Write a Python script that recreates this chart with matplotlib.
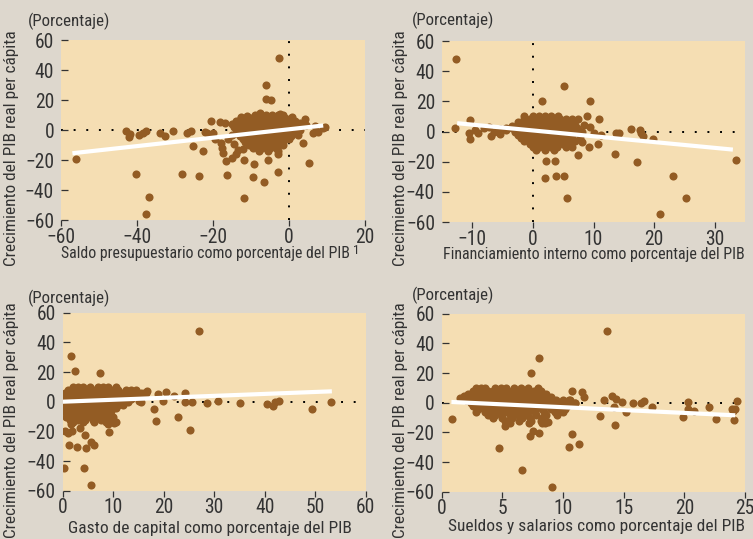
import matplotlib
matplotlib.use("Agg")
import matplotlib.pyplot as plt
from matplotlib import font_manager
import numpy as np

W, H = 753, 539
BG = "#ddd7cd"
PLOT_BG = "#f5deb3"
DOT = "#935c24"
TXT = "#333333"

YLABEL = "Crecimiento del PIB real per cápita"
UNIT = "(Porcentaje)"

# ---- panel 1: saldo presupuestario ----
saldo_rows = [
    (10, [-9, -7.5, -6, -4.5, -3, -1.5]),
    (8, [-12.5, -11, -10, -8.5, -7, -5.5, -4, -2.5, -1, 0.5]),
    (6, [-14, -12.8, -11.5, -10.2, -9, -8, -7, -6, -5, -4, -3, -2, -1, 0, 1.5]),
    (4, [-15, -13.5, -12, -11, -10, -9, -8, -7, -6, -5, -4, -3, -2, -1, 0, 1, 2.5]),
    (2, [-14.5, -13, -12, -11, -10, -9, -8, -7, -6, -5, -4, -3, -2, -1, 0, 1, 2]),
    (0, [-13.5, -12.5, -11.5, -10.5, -9.5, -8.5, -7.5, -6.5, -5.5, -4.5, -3.5, -2.5, -1.5, -0.5, 0.5, 1.5, 3]),
    (-2, [-14, -12.5, -11, -10, -9, -8, -7, -6, -5, -4, -3, -2, -1, 0, 1]),
    (-4, [-13, -11.5, -10, -9, -8, -7, -6, -5, -4, -3, -2, -1, 0.5]),
    (-6, [-12, -10.5, -9.5, -8.5, -7.5, -6.5, -5.5, -4.5, -3.5, -2.5, -1.5, 0]),
    (-8, [-11.5, -10, -9, -8, -7, -6, -5, -4, -3, -1.5]),
    (-10, [-10.5, -9, -7.5, -6, -4.5, -3, -1.5]),
    (-12, [-9.5, -7, -5, -3.5]),
    (-14, [-8, -5.5, -3]),
]
saldo_extra = [
    (-2.5, 48), (-6, 30), (-6, 20.5), (-4.8, 19.8), (-56, -19), (-40.3, -29.5),
    (-36.8, -44.9), (-37.6, -55.8), (-28.1, -29.3), (-23.8, -30.4), (-16.3, -30),
    (-11.8, -45), (-9.4, -31.3), (-6.5, -34.4), (-3, -27.8), (-9.1, -22.7),
    (-11.8, -20.2), (-5.5, -20), (5.3, -22), (3.8, -8.9), (-2.8, -16),
    (-16.5, -20.9), (-15.1, -18.9), (-17.4, -15), (-17.5, -12), (-22.5, -14),
    (-25.2, -10.7), (-42.9, -0.5), (-41.8, -2.7), (-42.2, -4.9), (-39.4, -3.6),
    (-38.5, -2.2), (-37.6, -0.9), (-34, -2.2), (-32.6, -4), (-30.6, -0.4),
    (-26.8, -1.8), (-25.8, -0.4), (-21.7, -1.8), (-20.5, 6.2), (-18.2, 5.1),
    (-16.8, 4.4), (-19.9, -2.2), (-22.1, -1.1), (4.2, 7.1), (4.5, 3.3),
    (6.4, -2.2), (6.8, 2.7), (7.7, -1.1), (9, 1.1), (9.5, 2), (-12.5, 8.9),
    (-11.1, 9.3), (-7.6, 11.1), (-2.4, 10.7), (0.7, 8.9), (-19.5, -6),
    (-18, -8.5), (-16, -6), (-15, -3), (-14.5, -9), (-14, -16), (-13.5, -13),
    (-12.2, -12.4), (2.5, -3), (3, 5),
]
saldo_fit = ([-57, 9], [-15.5, 3])

# ---- panel 2: financiamiento interno ----
fin_rows = [
    (10, [0, 1, 2, 3, 4.2]),
    (8, [-1.5, -0.5, 0.5, 1.5, 2.5, 3.5, 4.5, 5.5, 6.5]),
    (6, [-2.5, -1.5, -0.8, 0, 0.8, 1.6, 2.4, 3.2, 4, 4.8, 5.6, 6.5]),
    (4, [-2.2, -1.4, -0.6, 0.2, 1, 1.8, 2.6, 3.4, 4.2, 5, 5.8, 7]),
    (2, [-3.5, -2.5, -1.6, -0.8, 0, 0.8, 1.6, 2.4, 3.2, 4, 4.8, 5.6, 6.4, 7.3]),
    (0, [-3, -2, -1.2, -0.4, 0.4, 1.2, 2, 2.8, 3.6, 4.4, 5.2, 6, 7]),
    (-2, [-2.5, -1.5, -0.7, 0.1, 0.9, 1.7, 2.5, 3.3, 4.1, 4.9, 5.7, 6.5]),
    (-4, [-2, -1, 0, 0.8, 1.6, 2.4, 3.2, 4, 4.8, 5.6, 6.4]),
    (-6, [-1.5, -0.3, 0.6, 1.4, 2.2, 3, 3.8, 4.6, 5.4, 6.2, 7]),
    (-8, [-0.5, 0.5, 1.4, 2.3, 3.2, 4.1, 5, 6]),
    (-10, [0, 1, 2, 3, 4, 5.5, 6.5]),
    (-12, [0.5, 2, 3.5]),
]
fin_extra = [
    (-12.7, 48), (-12.9, 2.5), (-10.3, 7.5), (-10.4, -5), (-10.6, -0.7),
    (-9.5, 1), (-6.9, -2.9), (-7.2, 3.3), (-5.4, 1.7), (-4.4, 0.7), (-3.4, 3.7),
    (5.2, 30), (1.5, 20.4), (9.5, 19.9), (9, 10.4), (10.9, 8), (8.1, 0),
    (10.8, -8), (9.2, -10), (8.1, -7), (7.4, -15.5), (2.2, -19.4), (3.7, -19.6),
    (2, -31), (3.8, -29.3), (5.2, -29.3), (5.6, -44.4), (13.6, -14.7),
    (13.7, -1.3), (14.2, -0.7), (16.2, 1.5), (17.6, 0.8), (17.9, -1.3),
    (18.2, -2.9), (17.2, -20.1), (19.9, -4.7), (23.2, -29.8), (25.3, -44.4),
    (21, -55), (33.5, -18.8), (11.2, -2.2), (-9, -1), (-8, 2), (-6.5, 0),
    (-5.5, -1.5), (-4.5, 2), (-2.5, 4), (7.5, 1), (8.5, 4), (9.5, 3), (10, -1),
    (7.8, -4), (-1.5, 10), (6.5, 6), (7.5, 8),
]
fin_fit = ([-12.5, 33], [5.5, -12])

# ---- panel 3: gasto de capital ----
gasto_rows = [
    (10, [2, 3, 4, 5.5, 7, 8, 9, 10.5]),
    (8, [1, 2, 3, 4, 5, 6, 7, 8, 9, 10, 11, 12.5, 13.5, 14.5]),
    (6, [0.5, 1.5, 2.5, 3.5, 4.5, 5.5, 6.5, 7.5, 8.5, 9.5, 10.5, 11.5, 12.5, 13.5, 14.5, 15.5, 16.5]),
    (4, [0.3, 1.2, 2, 3, 4, 5, 6, 7, 8, 9, 10, 11, 12, 13, 14, 15]),
    (2, [0.5, 1.5, 2.5, 3.5, 4.5, 5.5, 6.5, 7.5, 8.5, 9.5, 10.5, 11.5, 12.5, 13.5]),
    (0, [0.5, 1.5, 2.5, 3.5, 4.5, 5.5, 6.5, 7.5, 8.5, 9.5, 10.5, 11.5, 13, 15.5]),
    (-2, [0.3, 1.2, 2, 3, 4, 5, 6, 7, 8, 9, 10, 11, 12]),
    (-4, [0.5, 1.5, 2.5, 3.5, 4.5, 5.5, 6.5, 7.5, 8.5, 9.5, 10.5]),
    (-6, [0.3, 1.2, 2.2, 3.2, 4.2, 5.2, 6.2, 7.2, 8.2, 9.5]),
    (-8, [0.8, 1.8, 2.8, 3.8, 4.8, 5.8, 6.8, 8, 9.2]),
    (-10, [1, 2.2, 3.5, 4.8, 6, 7.2, 8.5, 10]),
    (-12, [1.5, 3, 4.5, 6, 7.5, 9]),
    (-14, [2, 4, 6.2, 8.5, 10.5]),
]
gasto_extra = [
    (27, 48), (1.6, 30.5), (2.4, 20.6), (7.3, 19.3), (0.3, -45), (4.2, -45),
    (5.7, -56.2), (1.3, -29.2), (2.9, -30.4), (4.6, -31.5), (5.7, -27.3),
    (6.1, -29.2), (0.4, -19.5), (1.1, -21.4), (1.8, -19.8), (3.4, -18),
    (4.5, -22.5), (1.6, -15.3), (9.2, -20.2), (10.2, -14.2), (8.9, -15.3),
    (18.1, -5.2), (18.5, -12.8), (22.9, -10.3), (25.2, -18.8), (24.2, 5.6),
    (20.5, 6.7), (22, 3.8), (24.2, 0), (25.6, 0), (28.5, -0.9), (30.8, 0.4),
    (35.2, -1.1), (40.4, -1.8), (41.7, -2.7), (42.1, -0.4), (42.9, 0.4),
    (49.4, -4.9), (53.1, 0), (19.9, 0.7), (18.9, 5), (15.2, 0.7), (16.1, 5.6),
    (16.6, 7.2), (0.2, 4), (0.1, -5.8), (0.6, -10.3),
]
gasto_fit = ([0, 53.3], [0, 7])

# ---- panel 4: sueldos y salarios ----
sueldo_rows = [
    (10, [2.8, 3.2, 3.6, 4.4, 4.9, 5.3, 6, 6.5, 7.1, 7.9]),
    (8, [2.6, 3, 3.4, 3.8, 4.2, 4.6, 5, 5.4, 5.8, 6.2, 6.6, 7, 7.6, 8.2]),
    (6, [2.2, 2.6, 3, 3.4, 3.8, 4.2, 4.6, 5, 5.4, 5.8, 6.2, 6.6, 7, 7.4, 8, 8.6]),
    (4, [1.8, 2.3, 2.8, 3.2, 3.6, 4, 4.4, 4.8, 5.2, 5.6, 6, 6.4, 6.8, 7.2, 7.6, 8, 8.4, 9]),
    (2, [2, 2.5, 3, 3.4, 3.8, 4.2, 4.6, 5, 5.4, 5.8, 6.2, 6.6, 7, 7.4, 7.8, 8.2, 8.8, 9.4, 10, 10.6]),
    (0, [2.4, 2.9, 3.3, 3.7, 4.1, 4.5, 4.9, 5.3, 5.7, 6.1, 6.5, 6.9, 7.3, 7.7, 8.1, 8.6, 9.2, 9.8, 10.4, 11]),
    (-2, [2.6, 3.1, 3.5, 3.9, 4.3, 4.7, 5.1, 5.5, 5.9, 6.3, 6.7, 7.1, 7.5, 8, 8.5, 9.1, 9.7, 10.3]),
    (-4, [3, 3.5, 4, 4.4, 4.8, 5.2, 5.6, 6, 6.4, 6.8, 7.2, 7.7, 8.3, 9, 9.6, 10.2]),
    (-6, [3.6, 4.1, 4.6, 5.1, 5.6, 6.1, 6.6, 7.1, 7.7, 8.4, 9.3, 10]),
    (-8, [3.8, 4.4, 5, 5.6, 6.3, 7, 7.8, 8.6, 9.5]),
    (-10, [4.2, 5, 5.8, 6.6, 7.3, 8.3]),
    (-12, [5.2, 6.4, 7.4, 8.2]),
    (-14, [5.6, 7.2]),
]
sueldo_extra = [
    (13.6, 48.3), (8.05, 30.3), (7.4, 19.8), (0.85, -10.8), (4.75, -30.3),
    (6.6, -45.6), (9.1, -56.7), (7.3, -22.5), (7.5, -19.1), (8.05, -20.2),
    (8.5, -13.5), (10.5, -29.6), (10.7, -20.8), (11.3, -27.9), (10.7, 8),
    (11.6, 7.5), (11.7, 3.7), (13.05, -9), (13.4, 1.8), (14, 4.3), (14.4, 2.5),
    (14.2, -2.7), (14.3, -14.8), (14.9, 0.4), (15.2, -6.3), (15.8, 0),
    (16.4, -0.4), (16.7, 1.1), (17.3, -3.1), (19.9, -9.4), (20.3, 0.4),
    (20.3, -4), (20.8, -5.6), (22, -2.7), (22.6, -11.2), (24, -5.6),
    (24.1, -11.7), (24.3, 1.1), (24.2, -4.5), (23.9, -4.5), (1.5, 3),
    (1.8, 4.5), (2.8, -6.3), (4.2, -9.5), (5.2, -15.7), (5.3, -12),
    (8.3, -14), (8.8, -13), (9.5, -7), (9.8, -5), (10.5, 2), (11, 0),
]
sueldo_fit = ([0.8, 24.2], [0.5, -8.5])


def expand(rows, extra):
    xs = [x for y, row in rows for x in row] + [p[0] for p in extra]
    ys = [y for y, row in rows for _ in row] + [p[1] for p in extra]
    return np.array(xs), np.array(ys)


def frac(px, py):
    return px / W, 1 - py / H


# pick the narrowest installed family we can find
installed = {f.name for f in font_manager.fontManager.ttflist}
for cand in ["Liberation Sans Narrow", "DejaVu Sans Condensed", "Roboto Condensed",
             "Open Sans Condensed", "Liberation Sans", "Roboto"]:
    if cand in installed:
        FONT = cand
        break
else:
    FONT = "DejaVu Sans"
plt.rcParams["font.family"] = [FONT, "DejaVu Sans"]

fig = plt.figure(figsize=(W / 100, H / 100), dpi=100, facecolor=BG)
renderer = fig.canvas.get_renderer()


def fit_width(txt, target_px, horizontal=True):
    bb = txt.get_window_extent(renderer=renderer)
    size = bb.width if horizontal else bb.height
    txt.set_fontsize(txt.get_fontsize() * target_px / size)


# tick label size chosen so that "−60" is about as wide as in the original
probe = fig.text(0, 0, "\u221260", fontsize=13)
fit_width(probe, 29)
TICK_FS = probe.get_fontsize()
probe.remove()

panels = [
    dict(rect=(61, 40, 365, 220), data=expand(saldo_rows, saldo_extra), fit=saldo_fit,
         xlim=(-60, 20), xticks=[-60, -40, -20, 0, 20], vline=True,
         xlabel="Saldo presupuestario como porcentaje del PIB", xl=(61, 253), xw=291,
         unit=(28, 21), yl=(12, 148)),
    dict(rect=(442, 41, 745, 222), data=expand(fin_rows, fin_extra), fit=fin_fit,
         xlim=(-15, 35), xticks=[-10, 0, 10, 20, 30], vline=True,
         xlabel="Financiamiento interno como porcentaje del PIB", xl=(443, 255), xw=305,
         unit=(412, 20), yl=(401, 148)),
    dict(rect=(62.7, 312.7, 365.7, 490.7), data=expand(gasto_rows, gasto_extra), fit=gasto_fit,
         xlim=(0, 60), xticks=[0, 10, 20, 30, 40, 50, 60], vline=False,
         xlabel="Gasto de capital como porcentaje del PIB", xl=(68, 528), xw=284,
         unit=(28, 298), yl=(12, 420)),
    dict(rect=(441.7, 313.7, 745, 491.7), data=expand(sueldo_rows, sueldo_extra), fit=sueldo_fit,
         xlim=(0, 25), xticks=[0, 5, 10, 15, 20, 25], vline=False,
         xlabel="Sueldos y salarios como porcentaje del PIB", xl=(448, 527), xw=298,
         unit=(412, 295), yl=(401, 420)),
]

dotted = dict(color="black", lw=1.4, ls=(0, (1, 5.5)), zorder=1)

for p in panels:
    l, t, r, b = p["rect"]
    ax = fig.add_axes([l / W, 1 - b / H, (r - l) / W, (b - t) / H])
    ax.set_facecolor(PLOT_BG)
    for s in ax.spines.values():
        s.set_visible(False)
    x, y = p["data"]
    ax.axhline(0, **dotted)
    if p["vline"]:
        ax.axvline(0, **dotted)
    ax.scatter(x, y, s=34, color=DOT, linewidths=0, zorder=2)
    ax.plot(p["fit"][0], p["fit"][1], color="white", lw=3, solid_capstyle="butt", zorder=3)
    ax.set_xlim(*p["xlim"])
    ax.set_ylim(-60, 60)
    ax.set_xticks(p["xticks"])
    ax.set_yticks([-60, -40, -20, 0, 20, 40, 60])
    ax.tick_params(axis="y", direction="in", length=5, width=0.9, color=TXT,
                   labelsize=TICK_FS, labelcolor=TXT, pad=5)
    ax.tick_params(axis="x", direction="out", length=4, width=0.9, color=TXT,
                   labelsize=TICK_FS, labelcolor=TXT, pad=1.5)

    fx, fy = frac(*p["xl"])
    t1 = fig.text(fx, fy, p["xlabel"], fontsize=12.5, color=TXT, ha="left", va="center")
    fit_width(t1, p["xw"])
    fx, fy = frac(*p["unit"])
    t2 = fig.text(fx, fy, UNIT, fontsize=12, color=TXT, ha="left", va="center")
    fit_width(t2, 82)
    fx, fy = frac(*p["yl"])
    t3 = fig.text(fx, fy, YLABEL, fontsize=12.5, color=TXT, rotation=90,
                  ha="center", va="center")
    fit_width(t3, 237, horizontal=False)

# superscript after the first x label
fx, fy = frac(353, 250)
fig.text(fx, fy, "1", fontsize=9.5, color=TXT, ha="left", va="center")

fig.savefig("out.png", dpi=100, facecolor=BG)
